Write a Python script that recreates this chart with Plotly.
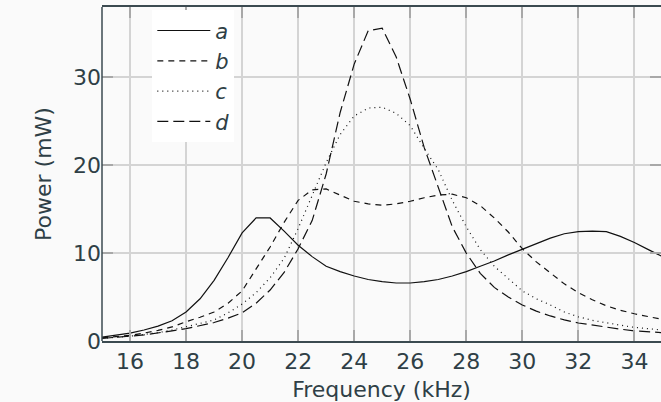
import plotly.graph_objects as go

freq = [15, 15.5, 16, 16.5, 17, 17.5, 18, 18.5, 19, 19.5, 20, 20.5, 21, 21.5, 22, 22.5, 23, 23.5,
        24, 24.5, 25, 25.5, 26, 26.5, 27, 27.5, 28, 28.5, 29, 29.5, 30, 30.5, 31, 31.5, 32, 32.5,
        33, 33.5, 34, 34.5, 35]

a = [0.45, 0.65, 0.9, 1.25, 1.7, 2.3, 3.3, 4.8, 6.9, 9.5, 12.3, 14.0, 14.0, 12.5, 10.9, 9.6, 8.5, 7.9,
     7.4, 7.0, 6.75, 6.6, 6.6, 6.75, 7.0, 7.4, 7.9, 8.5, 9.1, 9.8, 10.45, 11.1, 11.7, 12.2, 12.45, 12.5,
     12.45, 11.9, 11.2, 10.4, 9.6]
b = [0.35, 0.5, 0.65, 0.9, 1.2, 1.6, 2.2, 2.7, 3.3, 4.3, 5.7, 8.2, 10.7, 13.5, 16.0, 17.2, 17.3, 16.6,
     15.9, 15.6, 15.45, 15.6, 15.9, 16.3, 16.6, 16.7, 16.3, 15.4, 14.0, 12.4, 10.5, 9.0, 7.7, 6.5, 5.5, 4.7,
     4.0, 3.5, 3.1, 2.75, 2.45]
c = [0.3, 0.4, 0.55, 0.75, 0.95, 1.25, 1.6, 2.0, 2.4, 3.2, 4.2, 5.5, 7.2, 9.4, 12.8, 16.5, 20.3, 23.5,
     25.6, 26.5, 26.6, 25.9, 24.5, 21.9, 19.5, 16.0, 13.0, 10.4, 8.5, 7.1, 5.7, 4.8, 4.1, 3.3, 2.75, 2.35,
     2.05, 1.8, 1.55, 1.4, 1.25]
d = [0.3, 0.4, 0.55, 0.7, 0.9, 1.15, 1.4, 1.75, 2.1, 2.6, 3.2, 4.3, 5.8, 7.8, 10.5, 13.7, 19.0, 26.0,
     31.5, 35.3, 35.6, 32.3, 27.5, 22.0, 17.6, 13.0, 10.0, 7.7, 6.1, 5.0, 4.1, 3.4, 2.85, 2.4, 2.05, 1.8,
     1.55, 1.35, 1.15, 1.05, 0.95]

series = [("a", a, "solid"), ("b", b, "6px,5px"), ("c", c, "1px,4px"), ("d", d, "11px,5px")]
x_ticks = [16, 18, 20, 22, 24, 26, 28, 30, 32, 34]
y_ticks = [0, 10, 20, 30]

TXT = "#2f3f46"
FONT = "DejaVu Sans"

fig = go.Figure()
for name, vals, dash in series:
    fig.add_trace(go.Scatter(x=freq, y=vals, mode="lines", name=f"<i>{name}</i>",
                             line=dict(color="#111111", width=1.2, dash=dash)))

axis_common = dict(
    showgrid=True, gridcolor="#d4d4d4", gridwidth=1.5,
    ticks="inside", ticklen=11, tickwidth=2, tickcolor="#a8a8a8",
    zeroline=False, automargin=False,
    tickfont=dict(size=22, color=TXT, family=FONT),
)

fig.update_xaxes(range=[15, 34.95], tickvals=x_ticks, showline=True, linecolor="#3b4a50",
                 linewidth=1.5, mirror="ticks",
                 title=dict(text="Frequency (kHz)", font=dict(size=22, color=TXT, family=FONT)),
                 **axis_common)
fig.update_yaxes(range=[0, 38], tickvals=y_ticks, showline=False, mirror="ticks",
                 title=dict(text="Power (mW)", font=dict(size=22, color=TXT, family=FONT)),
                 **axis_common)

fig.add_shape(type="line", xref="paper", yref="paper", x0=0, x1=0, y0=0, y1=1,
              line=dict(color="#3b4a50", width=1.5))

fig.update_layout(
    width=661, height=402,
    margin=dict(l=102, r=0, t=7, b=61),
    paper_bgcolor="#fafafa", plot_bgcolor="#fafafa",
    font=dict(family=FONT, color=TXT, size=22),
    showlegend=True,
    legend=dict(x=0.09, y=0.99, xanchor="left", yanchor="top", bgcolor="white",
                borderwidth=0, font=dict(size=21, color=TXT, family=FONT),
                itemwidth=53, tracegroupgap=0),
)

fig.write_html("out.html", config={"displayModeBar": False},
               post_script="document.body.style.margin='0';document.body.style.background='#fafafa';")
